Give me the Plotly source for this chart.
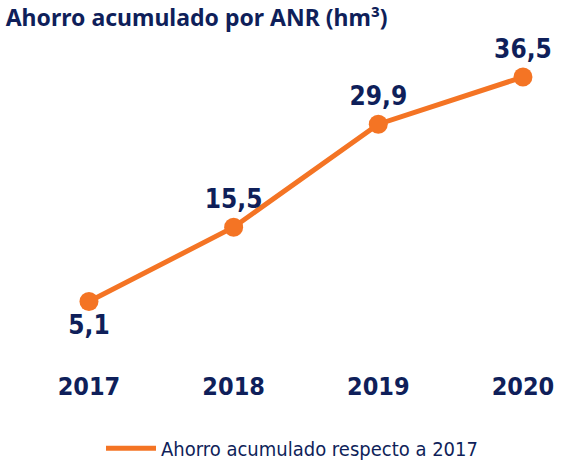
import plotly.graph_objects as go

years = [2017, 2018, 2019, 2020]
values = [5.1, 15.5, 29.9, 36.5]
labels = ["5,1", "15,5", "29,9", "36,5"]
positions = ["bottom center", "top center", "top center", "top center"]

NAVY = "#0f1f5a"
ORANGE = "#f47424"
COND = "DejaVu Sans Condensed, DejaVu Sans, sans-serif"

fig = go.Figure()
fig.add_trace(go.Scatter(
    x=years, y=values, mode="lines+markers+text",
    text=labels, textposition=positions,
    textfont=dict(family=COND, size=26, color=NAVY, weight="bold"),
    line=dict(color=ORANGE, width=5),
    marker=dict(color=ORANGE, size=19),
    showlegend=False, cliponaxis=False,
))
fig.add_trace(go.Scatter(
    x=[None], y=[None], mode="lines",
    line=dict(color=ORANGE, width=5),
    name="Ahorro acumulado respecto a 2017",
))

fig.update_layout(
    width=571, height=469,
    margin=dict(l=0, r=0, t=52, b=130.5),
    paper_bgcolor="white", plot_bgcolor="white",
    title=dict(
        text="Ahorro acumulado por ANR (hm³)",
        x=0.01, xanchor="left", xref="paper",
        y=1 - 18 / 469, yanchor="middle", yref="container",
        font=dict(family="Noto Sans, sans-serif", size=23, color=NAVY, weight="bold"),
    ),
    xaxis=dict(
        range=[2016.385, 2020.332], tickvals=years, ticktext=[str(y) for y in years],
        showgrid=False, zeroline=False, showline=False, ticks="",
        tickfont=dict(family=COND, size=25, color=NAVY, weight="bold"),
        ticklabelstandoff=31,
    ),
    yaxis=dict(range=[0, 40], visible=False),
    legend=dict(
        orientation="h", x=101 / 571, xanchor="left",
        y=(338.5 - 449) / 286.5, yanchor="middle",
        itemwidth=50,
        font=dict(family=COND, size=20, color=NAVY),
    ),
)

fig.write_html("out.html")
